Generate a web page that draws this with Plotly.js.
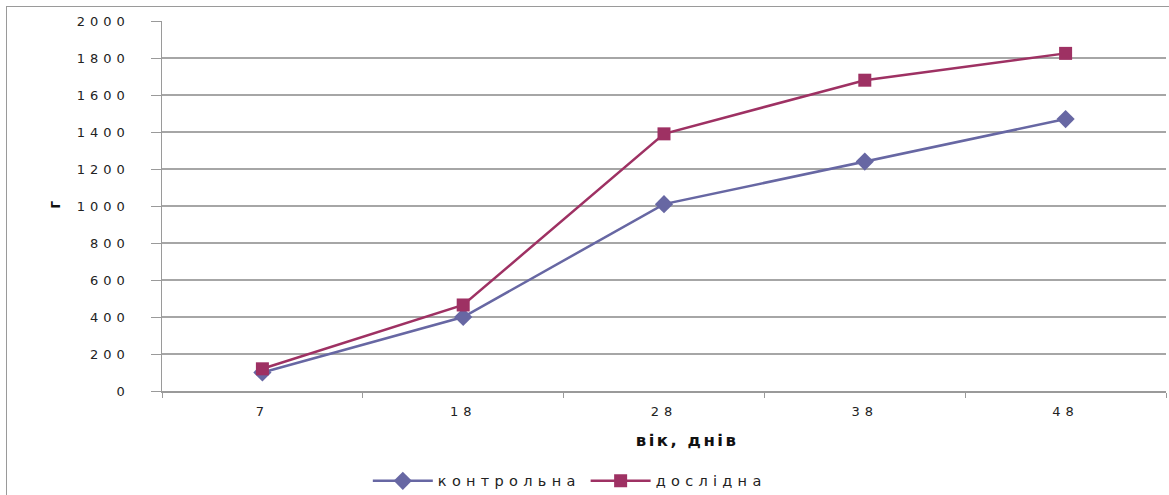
<!DOCTYPE html>
<html>
<head>
<meta charset="utf-8">
<script src="https://cdn.plot.ly/plotly-3.0.1.min.js"></script>
<style>
  html, body { margin: 0; padding: 0; background: #fff; overflow: hidden; }
  #frame { position: absolute; left: 6px; top: 6px; width: 1175px; height: 500px; border: 1px solid #9a9a9a; box-sizing: border-box; pointer-events: none; z-index: 5; }
  #chart { position: absolute; left: 0; top: 0; width: 1169px; height: 495px; }
  .xtick text, .ytick text { letter-spacing: 5px; }
  .legendtext { letter-spacing: 5.3px; }
  .annotation-text.xt { letter-spacing: 2.5px; }
</style>
</head>
<body>
<div id="chart"></div>
<div id="frame"></div>
<script>
const categories = ['7', '18', '28', '38', '48'];
const controlValues = [100, 400, 1010, 1240, 1470];
const experimentalValues = [120, 465, 1390, 1680, 1825];
const seriesNames = ['контрольна', 'дослідна'];
const yTicks = [0, 200, 400, 600, 800, 1000, 1200, 1400, 1600, 1800, 2000];
const xTitle = 'вік, днів';
const yTitle = 'г';

const traces = [
  {
    x: categories, y: controlValues, name: seriesNames[0], type: 'scatter', mode: 'lines+markers',
    line: { color: '#6767A3', width: 2.5 },
    marker: { symbol: 'diamond', size: 14, color: '#6767A3' }
  },
  {
    x: categories, y: experimentalValues, name: seriesNames[1], type: 'scatter', mode: 'lines+markers',
    line: { color: '#9E3163', width: 2.5 },
    marker: { symbol: 'square', size: 13, color: '#9E3163' }
  }
];

const layout = {
  width: 1169, height: 495,
  margin: { l: 162, r: 3, t: 21, b: 104, autoexpand: false },
  paper_bgcolor: '#fff', plot_bgcolor: '#fff',
  font: { family: 'DejaVu Sans, sans-serif', size: 13, color: '#222' },
  showlegend: true,
  legend: {
    orientation: 'h', x: 0.205, xanchor: 'left', y: -0.243, yanchor: 'middle',
    font: { size: 14.5, color: '#222' }, itemwidth: 60, tracegroupgap: 0
  },
  xaxis: {
    type: 'category', categoryorder: 'array', categoryarray: categories,
    range: [-0.5, 4.5],
    tickson: 'boundaries', ticks: 'outside', ticklen: 5, tickcolor: '#9a9a9a',
    ticklabelstandoff: 8,
    showline: true, linecolor: '#9a9a9a', linewidth: 1.5,
    showgrid: false, zeroline: false,
    tickfont: { size: 13, color: '#222' }
  },
  yaxis: {
    range: [0, 2000], tickvals: yTicks, ticktext: yTicks.map(String),
    ticks: 'outside', ticklen: 10, tickcolor: '#9a9a9a',
    ticklabelstandoff: 18,
    showline: true, linecolor: '#9a9a9a', linewidth: 1.5,
    showgrid: true, gridcolor: '#a6a6a6', gridwidth: 1.5,
    zeroline: false,
    tickfont: { size: 13, color: '#222' }
  },
  annotations: [
    { text: '<b>' + xTitle + '</b>', xref: 'paper', yref: 'paper', x: 0.523, y: -0.135,
      xanchor: 'center', yanchor: 'middle', showarrow: false, font: { size: 16.5, color: '#111' } },
    { text: '<b>' + yTitle + '</b>', xref: 'paper', yref: 'paper', x: -0.1066, y: 0.503,
      xanchor: 'center', yanchor: 'middle', textangle: -90, showarrow: false, font: { size: 15, color: '#111' } }
  ]
};

Plotly.newPlot('chart', traces, layout, { displayModeBar: false, staticPlot: true }).then(() => {
  const ann = document.querySelectorAll('.annotation-text');
  if (ann.length) ann[0].classList.add('xt');
});
</script>
</body>
</html>
